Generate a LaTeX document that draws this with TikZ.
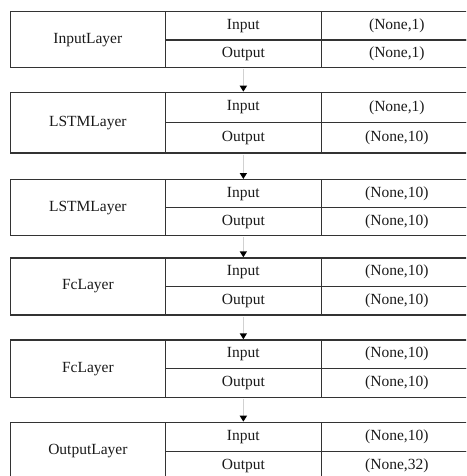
\documentclass[tikz,border=0pt]{standalone}
\usepackage{fontspec}
\setmainfont{Liberation Serif}
\usetikzlibrary{arrows.meta}
\begin{document}
\begin{tikzpicture}[x=1pt,y=-1pt,
  cell/.style={draw=black!80, line width=1.2pt, inner sep=0pt, anchor=north west,
    text=black!90, font=\fontsize{15.5}{18}\selectfont},
  flow/.style={draw=black!18, line width=1.5pt, shorten <=1pt,
    -{Triangle[color=black,width=7pt,length=6pt]}}]
\useasboundingbox (0,0) rectangle (466,476);
\clip (0,0) rectangle (466,476);
\foreach \i/\t/\m/\b/\lname/\vin/\vout in {
  1/11/39.5/67.3/InputLayer/{(None,1)}/{(None,1)},
  2/91.7/121.7/152.3/LSTMLayer/{(None,1)}/{(None,10)},
  3/179/207/235/LSTMLayer/{(None,10)}/{(None,10)},
  4/257.3/286/314.3/FcLayer/{(None,10)}/{(None,10)},
  5/339.3/368/396.7/FcLayer/{(None,10)}/{(None,10)},
  6/421.7/450.7/479.7/OutputLayer/{(None,10)}/{(None,32)}}{
  \pgfmathsetmacro\hall{\b-\t}
  \pgfmathsetmacro\htop{\m-\t}
  \pgfmathsetmacro\hbot{\b-\m}
  \node[cell, minimum width=155.5pt, minimum height=\hall pt] (L\i) at (9.5,\t) {\lname};
  \node[cell, minimum width=155.5pt, minimum height=\htop pt] (I\i) at (165,\t) {Input};
  \node[cell, minimum width=155.5pt, minimum height=\hbot pt] (O\i) at (165,\m) {Output};
  \node[cell, minimum width=151.5pt, minimum height=\htop pt] (IV\i) at (320.5,\t) {\vin};
  \node[cell, minimum width=151.5pt, minimum height=\hbot pt] (OV\i) at (320.5,\m) {\vout};
}
\foreach \i [evaluate=\i as \j using int(\i+1)] in {1,...,5}{
  \draw[flow] (O\i.south) -- (I\j.north);
}
\end{tikzpicture}
\end{document}
